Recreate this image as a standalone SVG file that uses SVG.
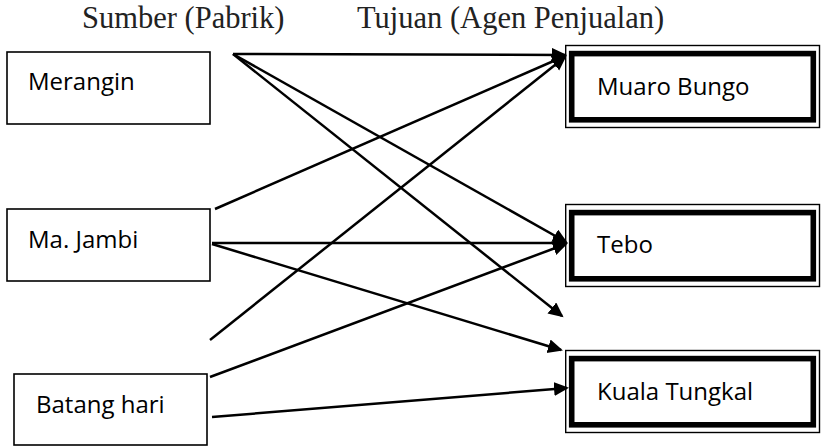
<svg xmlns="http://www.w3.org/2000/svg" width="822" height="446" viewBox="0 0 822 446">
<style>
.hdr{font-family:"Liberation Serif","Times New Roman",serif;font-size:30.5px;fill:#222}
.lbl{font-family:"Open Sans","Noto Sans","Liberation Sans",sans-serif;font-size:24px;fill:#000}
.src{fill:#fff;stroke:#000;stroke-width:1.6}
.thin{fill:#fff;stroke:#000;stroke-width:1.4}
.thick{fill:none;stroke:#000;stroke-width:5.6}
.conn line{stroke:#000;stroke-width:2.5}
</style>
<defs>
<marker id="ah" markerUnits="userSpaceOnUse" markerWidth="18" markerHeight="16" refX="13" refY="7" orient="auto">
<path d="M0,0 L15,7 L0,14 z" fill="#000"/>
</marker>
</defs>
<rect width="822" height="446" fill="#fff"/>
<text class="hdr" x="82" y="28">Sumber (Pabrik)</text>
<text class="hdr" x="357" y="28">Tujuan (Agen Penjualan)</text>
<g id="merangin">
<rect class="src" x="7" y="52" width="203" height="72"/>
<text class="lbl" x="28" y="90">Merangin</text>
</g>
<g id="majambi">
<rect class="src" x="7" y="209" width="203" height="72"/>
<text class="lbl" x="28" y="248">Ma. Jambi</text>
</g>
<g id="batanghari">
<rect class="src" x="14" y="374" width="193" height="71"/>
<text class="lbl" x="36" y="413">Batang hari</text>
</g>
<g id="muarobungo">
<rect class="thin" x="565.7" y="45.5" width="253.8" height="82"/>
<rect class="thick" x="571.7" y="53.6" width="241.6" height="66.2"/>
<text class="lbl" x="597" y="95">Muaro Bungo</text>
</g>
<g id="tebo">
<rect class="thin" x="565.7" y="204.5" width="253.8" height="82"/>
<rect class="thick" x="571.7" y="212.6" width="241.6" height="66.2"/>
<text class="lbl" x="597" y="253">Tebo</text>
</g>
<g id="kualatungkal">
<rect class="thin" x="565.7" y="350.5" width="253.8" height="82"/>
<rect class="thick" x="571.7" y="358.6" width="241.6" height="66.2"/>
<text class="lbl" x="597" y="400">Kuala Tungkal</text>
</g>
<g class="conn" id="connectors">
<line x1="233" y1="54" x2="565" y2="55" marker-end="url(#ah)"/>
<line x1="233" y1="54" x2="566" y2="242" marker-end="url(#ah)"/>
<line x1="233" y1="54" x2="562" y2="316" marker-end="url(#ah)"/>
<line x1="215" y1="209" x2="565" y2="56" marker-end="url(#ah)"/>
<line x1="212" y1="243" x2="566" y2="243" marker-end="url(#ah)"/>
<line x1="212" y1="244" x2="561" y2="350" marker-end="url(#ah)"/>
<line x1="210" y1="340" x2="565" y2="57" marker-end="url(#ah)"/>
<line x1="210" y1="377" x2="566" y2="244" marker-end="url(#ah)"/>
<line x1="212" y1="417" x2="567" y2="388" marker-end="url(#ah)"/>
</g>
</svg>
